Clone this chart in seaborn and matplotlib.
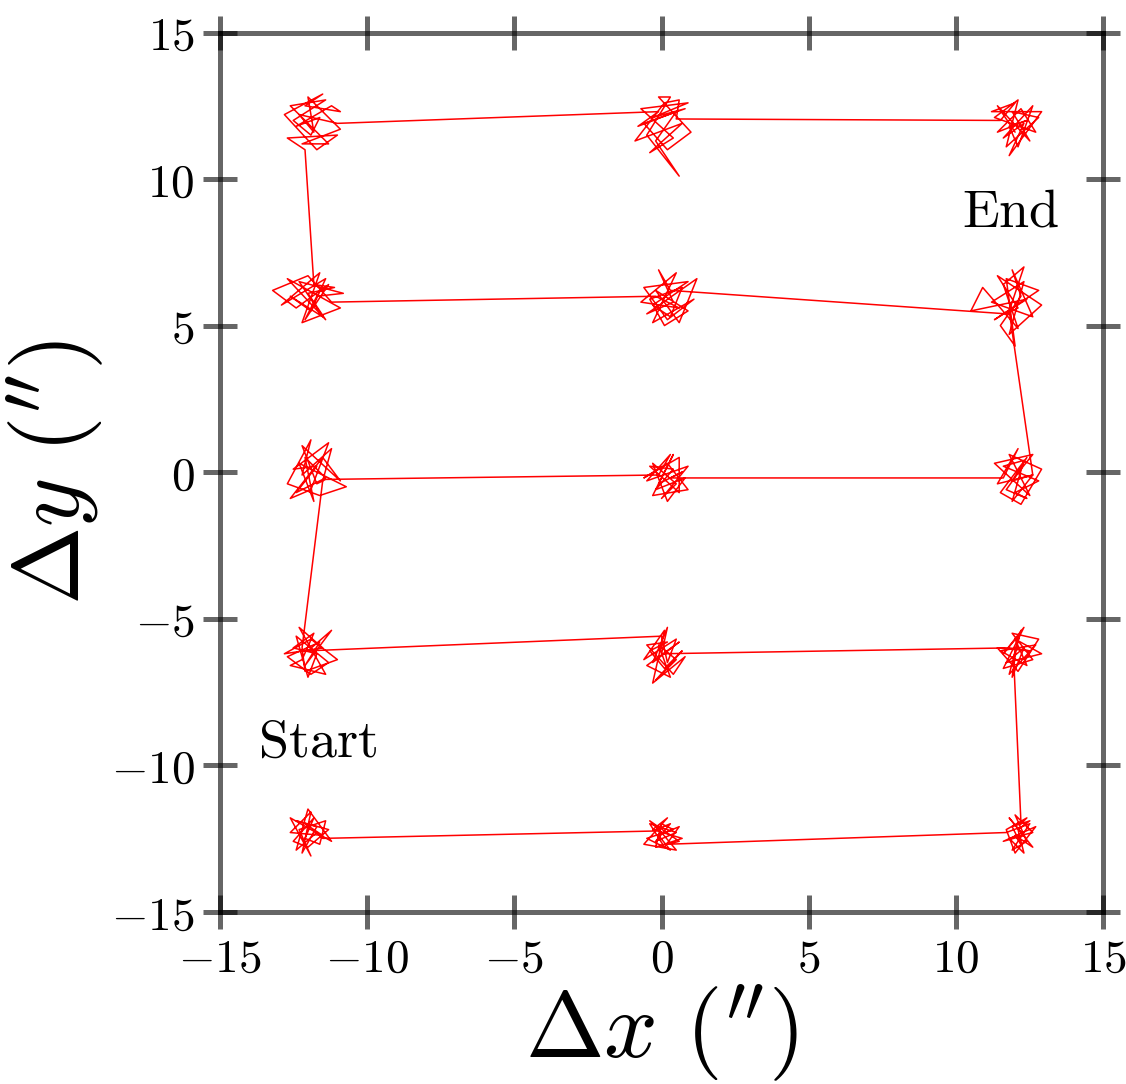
import numpy as np
import pandas as pd
import matplotlib
matplotlib.use("Agg")
import matplotlib.pyplot as plt
import seaborn as sns

# pointing positions (arcsec) in scan order
# one line per cluster (left/mid/right), 22 positions each
row1_x = [-12.1, -11.5, -12.6, -11.9, -12.2, -11.7, -12.4, -11.3, -12.0, -12.5, -11.8, -12.1, -11.6, -11.4, -12.3, -11.9, -12.6, -11.2, -12.0, -12.4, -11.7, -11.5,
          -0.3, 0.3, -0.2, 0.5, -0.4, 0.1, 0.6, -0.1, 0.3, -0.5, 0.4, 0.0, -0.2, 0.7, -0.3, 0.2, -0.6, 0.5, 0.0, -0.4, 0.6, 0.2,
          11.7, 12.5, 11.9, 12.4, 12.0, 12.6, 11.8, 12.3, 12.1, 12.5, 11.9, 12.2, 12.0, 12.6, 11.8, 12.3, 11.6, 12.7, 12.0, 11.7, 12.4, 12.2]
row1_y = [-12.0, -12.4, -12.3, -11.6, -13.0, -12.1, -11.9, -12.2, -12.8, -12.6, -11.8, -12.5, -12.7, -11.9, -12.2, -13.1, -11.8, -12.6, -11.5, -12.9, -12.3, -12.5,
          -12.25, -12.0, -12.6, -12.3, -12.0, -12.8, -12.1, -12.4, -12.9, -12.5, -12.2, -12.0, -12.8, -12.5, -12.2, -11.8, -12.7, -12.9, -12.3, -11.9, -12.6, -12.7,
          -12.3, -12.0, -12.9, -12.6, -11.7, -12.3, -12.5, -13.0, -12.2, -11.9, -12.1, -12.7, -12.4, -12.8, -11.8, -12.4, -12.6, -12.1, -13.0, -12.2, -11.8, -12.0]

row2_x = [11.95, 12.2, 11.8, 12.7, 11.5, 12.4, 12.0, 12.9, 11.7, 12.3, 11.9, 12.1, 11.6, 12.3, 11.6, 12.6, 11.9, 12.8, 12.1, 11.4, 12.5, 11.8,
          0.0, 0.2, -0.3, 0.6, -0.5, 0.3, -0.1, 0.5, -0.2, 0.7, 0.1, -0.4, 0.2, -0.5, 0.4, 0.8, -0.3, 0.1, -0.6, 0.5, 0.2, 0.0,
          -12.0, -11.2, -12.1, -11.6, -12.7, -11.9, -11.3, -12.4, -12.0, -11.7, -12.5, -11.8, -12.2, -12.6, -11.4, -12.3, -11.5, -12.8, -11.9, -11.0, -12.1, -12.2]
row2_y = [-6.3, -5.4, -6.9, -5.9, -6.1, -6.6, -5.7, -6.2, -6.5, -6.0, -7.0, -5.6, -6.2, -5.3, -6.7, -6.4, -5.5, -5.7, -6.8, -6.0, -6.1, -6.0,
          -6.2, -5.3, -6.5, -5.8, -6.6, -7.0, -5.9, -6.4, -7.1, -6.1, -6.7, -6.1, -5.8, -5.9, -6.9, -6.3, -7.2, -5.4, -6.4, -5.7, -6.5, -5.6,
          -6.1, -5.4, -6.6, -5.8, -6.3, -6.9, -6.5, -5.6, -7.0, -6.2, -6.0, -5.5, -6.4, -6.6, -6.9, -5.3, -6.0, -6.2, -5.7, -6.4, -6.8, -6.0]

row3_x = [-11.5, -11.2, -12.2, -11.9, -12.7, -11.6, -10.7, -12.3, -11.8, -12.1, -11.4, -12.4, -11.7, -12.5, -11.3, -11.9, -12.6, -11.5, -10.9, -12.2, -11.7, -11.4,
          -0.1, 0.3, -0.5, 0.9, 0.0, 0.5, -0.3, 0.2, 0.8, -0.2, 0.4, -0.4, 0.6, 0.6, -0.6, 0.2, 0.9, -0.3, 0.4, -0.1, 0.7, 0.3,
          11.6, 12.1, 11.4, 12.6, 11.9, 12.3, 11.6, 12.8, 12.0, 12.4, 11.7, 12.2, 12.6, 11.3, 12.5, 11.8, 12.9, 12.2, 11.5, 12.4, 11.9, 12.6]
row3_y = [-0.3, 0.8, -0.1, 1.1, -0.4, -0.8, -0.5, 0.3, -1.0, 0.5, -0.2, -0.7, 0.2, 0.1, 1.0, -0.6, -0.9, 0.5, -0.3, 0.9, -0.4, -0.25,
          -0.1, 0.6, -0.3, 0.2, -0.9, -0.4, 0.3, -1.0, -0.2, -0.6, 0.1, 0.2, -0.7, 0.5, -0.2, 0.3, -0.6, -0.8, 0.6, -0.4, 0.0, -0.2,
          -0.2, 0.8, -0.4, -0.1, -1.0, 0.4, 0.2, -0.3, -0.7, -0.9, -0.6, 0.1, 0.6, 0.3, -0.8, 0.6, 0.1, -1.1, -0.7, 0.5, -0.3, -0.1]

row4_x = [11.8, 12.3, 11.6, 12.1, 10.9, 10.5, 12.4, 11.3, 12.8, 11.7, 12.0, 11.5, 12.2, 11.9, 12.6, 11.2, 12.3, 11.8, 12.9, 11.4, 12.1, 11.7,
          0.3, -0.1, 0.4, -0.5, 1.2, 0.6, -0.2, 0.9, 0.1, -0.4, 0.7, 0.3, -0.3, 0.9, -0.6, 0.2, 1.1, -0.3, 0.5, -0.7, 0.6, -0.2,
          -11.2, -12.0, -13.2, -12.4, -11.3, -12.1, -11.7, -10.8, -12.3, -11.5, -12.6, -11.9, -11.4, -12.9, -11.6, -12.2, -10.9, -12.7, -11.4, -12.0, -11.1, -11.8]
row4_y = [5.5, 7.0, 6.4, 4.9, 6.3, 5.5, 5.9, 5.2, 6.2, 6.6, 4.3, 5.0, 6.0, 6.9, 5.3, 5.8, 6.5, 4.7, 5.7, 6.7, 5.6, 5.4,
          6.2, 6.9, 5.8, 5.4, 6.6, 5.1, 6.2, 5.5, 5.0, 5.9, 6.3, 5.3, 5.7, 6.5, 6.3, 5.2, 5.9, 5.1, 6.8, 5.8, 5.6, 6.0,
          5.8, 6.7, 6.2, 5.6, 6.4, 5.2, 6.0, 6.1, 6.5, 5.3, 6.0, 5.5, 6.6, 5.7, 6.8, 5.1, 5.6, 6.6, 5.2, 6.1, 6.3, 6.4]

row5_x = [-12.1, -12.7, -11.0, -11.7, -12.8, -11.5, -12.1, -10.9, -11.2, -12.4, -11.6, -11.9, -12.5, -11.4, -12.6, -11.3, -12.2, -10.9, -12.0, -11.8, -12.3, -11.0,
          -0.1, -0.8, 0.5, -0.2, 0.6, -0.5, 0.3, -0.1, 1.0, 0.2, -0.6, 0.8, -0.3, 0.9, -0.7, 0.4, -0.4, 0.7, -0.9, 0.1, 0.6, 0.5,
          11.5, 12.0, 11.2, 12.9, 11.8, 12.3, 11.6, 12.6, 12.1, 11.8, 12.4, 11.4, 12.2, 12.7, 11.3, 12.1, 11.7, 12.8, 11.9, 12.5, 11.4, 12.0]
row5_y = [11.0, 11.4, 11.5, 11.0, 12.2, 12.9, 12.5, 12.3, 12.5, 11.8, 12.1, 11.5, 12.0, 12.7, 12.5, 11.2, 11.2, 11.7, 12.8, 11.6, 12.2, 11.9,
          12.3, 11.8, 12.3, 11.3, 10.1, 11.5, 12.8, 12.8, 11.6, 11.0, 11.9, 12.4, 12.1, 12.6, 12.4, 11.4, 10.9, 11.9, 11.3, 12.6, 12.7, 12.05,
          12.0, 12.6, 12.3, 12.3, 10.8, 11.9, 11.4, 12.5, 11.1, 11.8, 12.0, 11.6, 12.4, 11.6, 12.1, 12.7, 11.1, 12.1, 12.3, 11.3, 12.5, 11.6]

ticks = [-15, -10, -5, 0, 5, 10, 15]
tick_labels = ["$-15$", "$-10$", "$-5$", "$0$", "$5$", "$10$", "$15$"]


def build_track():
    xs = row1_x + row2_x + row3_x + row4_x + row5_x
    ys = row1_y + row2_y + row3_y + row4_y + row5_y
    return pd.DataFrame({"step": np.arange(len(xs)), "dx": xs, "dy": ys})


def plot_track(df):
    sns.set_style("white")
    plt.rcParams["mathtext.fontset"] = "cm"
    plt.rcParams["font.family"] = ["DejaVu Serif"]
    plt.rcParams["text.color"] = "black"
    plt.rcParams["xtick.color"] = "black"
    plt.rcParams["ytick.color"] = "black"

    fig = plt.figure(figsize=(11.26, 10.84), dpi=100)
    ax = fig.add_axes([0.195, 0.159, 0.785, 0.811])

    sns.lineplot(data=df, x="dx", y="dy", sort=False, estimator=None,
                 color="red", linewidth=1.1, ax=ax)

    ax.set_xlim(-15, 15)
    ax.set_ylim(-15, 15)
    ax.set_xticks(ticks, labels=tick_labels)
    ax.set_yticks(ticks, labels=tick_labels)

    frame = (0.0, 0.0, 0.0, 0.6)
    for sp in ax.spines.values():
        sp.set_visible(True)
        sp.set_linewidth(3.6)
        sp.set_color(frame)
    ax.tick_params(direction="inout", length=24, width=3.6, color=frame,
                   labelcolor="black", labelsize=34, pad=6,
                   bottom=True, left=True, top=True, right=True,
                   labelbottom=True, labelleft=True)

    ax.set_xlabel(r"$\Delta x\ (^{\prime\prime})$", fontsize=68, labelpad=0, color="black")
    ax.set_ylabel(r"$\Delta y\ (^{\prime\prime})$", fontsize=68, labelpad=4, color="black")

    ax.text(-13.7, -9.2, r"$\mathrm{Start}$", fontsize=39, va="center", ha="left", color="black")
    ax.text(10.2, 8.9, r"$\mathrm{End}$", fontsize=39, va="center", ha="left", color="black")

    fig.savefig("out.png", dpi=100)
    plt.close(fig)


def main():
    df = build_track()
    plot_track(df)


if __name__ == "__main__":
    main()
